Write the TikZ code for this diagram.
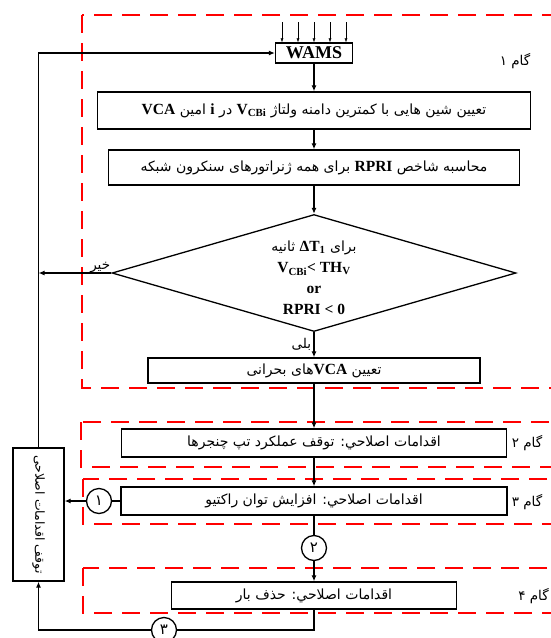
\documentclass[tikz,border=0pt]{standalone}
\usepackage{graphicx}
\usepackage{fontspec}
\setmainfont{Liberation Serif}
\newfontfamily\farsi[Script=Arabic]{DejaVu Sans}
\TeXXeTstate=1
\usetikzlibrary{arrows.meta,shapes.geometric}
\newcommand{\fa}[1]{{\farsi\beginR #1\endR}}
\newcommand{\en}[1]{\beginL{\rmfamily\bfseries\fontsize{15.5}{17}\selectfont #1}\endL{}}
\tikzset{
  px/.style={x=1pt, y=-1pt},
  fbox/.style={draw=black, line width=1.3pt, fill=white, inner sep=0pt, font=\fontsize{14}{16}\selectfont},
  flow/.style={black, line width=1.6pt, -{Latex[length=6pt,width=5pt]}},
  link/.style={black, line width=1.6pt},
  inarr/.style={black, line width=0.5pt, -{Latex[length=4pt,width=3pt]}},
  stage/.style={red, line width=2.5pt, dash pattern=on 18pt off 10pt},   % frame of one stage
  num/.style={circle, draw=black, line width=1.3pt, fill=white, inner sep=0pt, minimum size=25pt, font=\fontsize{15}{16}\selectfont},
  lbl/.style={inner sep=1pt, font=\fontsize{13.5}{15}\selectfont},
}

\begin{document}
\begin{tikzpicture}[px]
  \useasboundingbox (0,0) rectangle (551,638);
  \clip (0,0) rectangle (551,638);
  % stage frames (open to the right)
  \draw[stage] (82,15) rectangle (620,388);
  \draw[stage] (81,422) rectangle (620,467);
  \draw[stage] (83,479) rectangle (620,524);
  \draw[stage] (83,568) rectangle (620,613);
  \node[lbl] (g1) at (515,61) {\fa{گام ۱}};
  \node[lbl] (g2) at (527,443) {\fa{گام ۲}};
  \node[lbl] (g3) at (527,502) {\fa{گام ۳}};
  \node[lbl, anchor=east] (g4) at (550,596) {\fa{گام ۴}};

  % main column
  \node[fbox, minimum width=77pt, minimum height=20pt, font=\bfseries\fontsize{18}{20}\selectfont] (wams) at (314,53) {WAMS};
  \node[fbox, minimum width=433pt, minimum height=37pt] (vcbi) at (314,110.5)
       {\fa{تعیین شین هایی  با کمترین دامنه ولتاژ \en{V\textsubscript{CBi}} در \en{i} امین \en{VCA}}};
  \node[fbox, minimum width=411pt, minimum height=35pt] (rpri) at (314,167.5)
       {\fa{محاسبه شاخص \en{RPRI} برای همه ژنراتورهای سنکرون شبکه}};
  \node[diamond, draw=black, line width=1.3pt, inner sep=0pt, minimum width=404pt, minimum height=117pt] (test) at (314,273) {};
  \node[align=center, inner sep=0pt, font=\fontsize{14}{21}\selectfont] (cond) at (314,278)
       {\fa{برای \en{ΔT\textsubscript{1}} ثانیه}\\
        \en{V\textsubscript{CBi}< TH\textsubscript{V}}\\
        \en{or}\\
        \en{RPRI < 0}};
  \node[fbox, minimum width=332pt, minimum height=25pt] (crit) at (314,370.5) {\fa{تعیین \en{VCA}های بحرانی}};
  \node[fbox, minimum width=385pt, minimum height=28pt] (tap) at (314,443) {\fa{اقدامات اصلاحي: توقف عملکرد تپ چنجرها}};
  \node[fbox, minimum width=386pt, minimum height=28pt] (react) at (314,501) {\fa{اقدامات اصلاحي: افزایش توان راکتیو}};
  \node[num] (n2) at (314,548) {\fa{۲}};
  \node[fbox, minimum width=285pt, minimum height=27pt] (shed) at (314,595.5) {\fa{اقدامات اصلاحي: حذف بار}};

  % left side
  \node[fbox, minimum width=51pt, minimum height=133pt, font=\fontsize{12.5}{14}\selectfont] (halt) at (38.5,514.5)
       {\rotatebox{-90}{\fa{توقف اقدامات اصلاحی}}};
  \node[num] (n1) at (99,501) {\fa{۱}};
  \node[num] (n3) at (164,630) {\fa{۳}};

  % measurements into WAMS
  \foreach \dx in {-32,-16,0,16,32}
    \draw[inarr] ([xshift=\dx pt,yshift=20pt]wams.north) -- ([xshift=\dx pt]wams.north);

  \draw[flow] (wams) -- (vcbi);
  \draw[flow] (vcbi) -- (rpri);
  \draw[flow] (rpri) -- (test);
  \draw[flow] (test) -- (crit) node[midway, left=1pt, lbl] (yes) {\fa{بلی}};
  \draw[flow] (test.west) -- (test.west -| halt);
  \node[lbl, anchor=south east] (no) at ([yshift=-1pt]test.west) {\fa{خیر}};
  \draw[flow] (crit) -- (tap);
  \draw[flow] (tap) -- (react);
  \draw[link] (react) -- (n2);
  \draw[flow] (n2) -- (shed);
  \draw[link] (react.west) -- (n1);
  \draw[flow] (n1) -- (n1 -| halt.east);
  \draw[link] (shed) |- (n3);
  \draw[flow] (n3) -| (halt);
  \draw[flow] (halt) |- (wams);
\end{tikzpicture}
\end{document}
